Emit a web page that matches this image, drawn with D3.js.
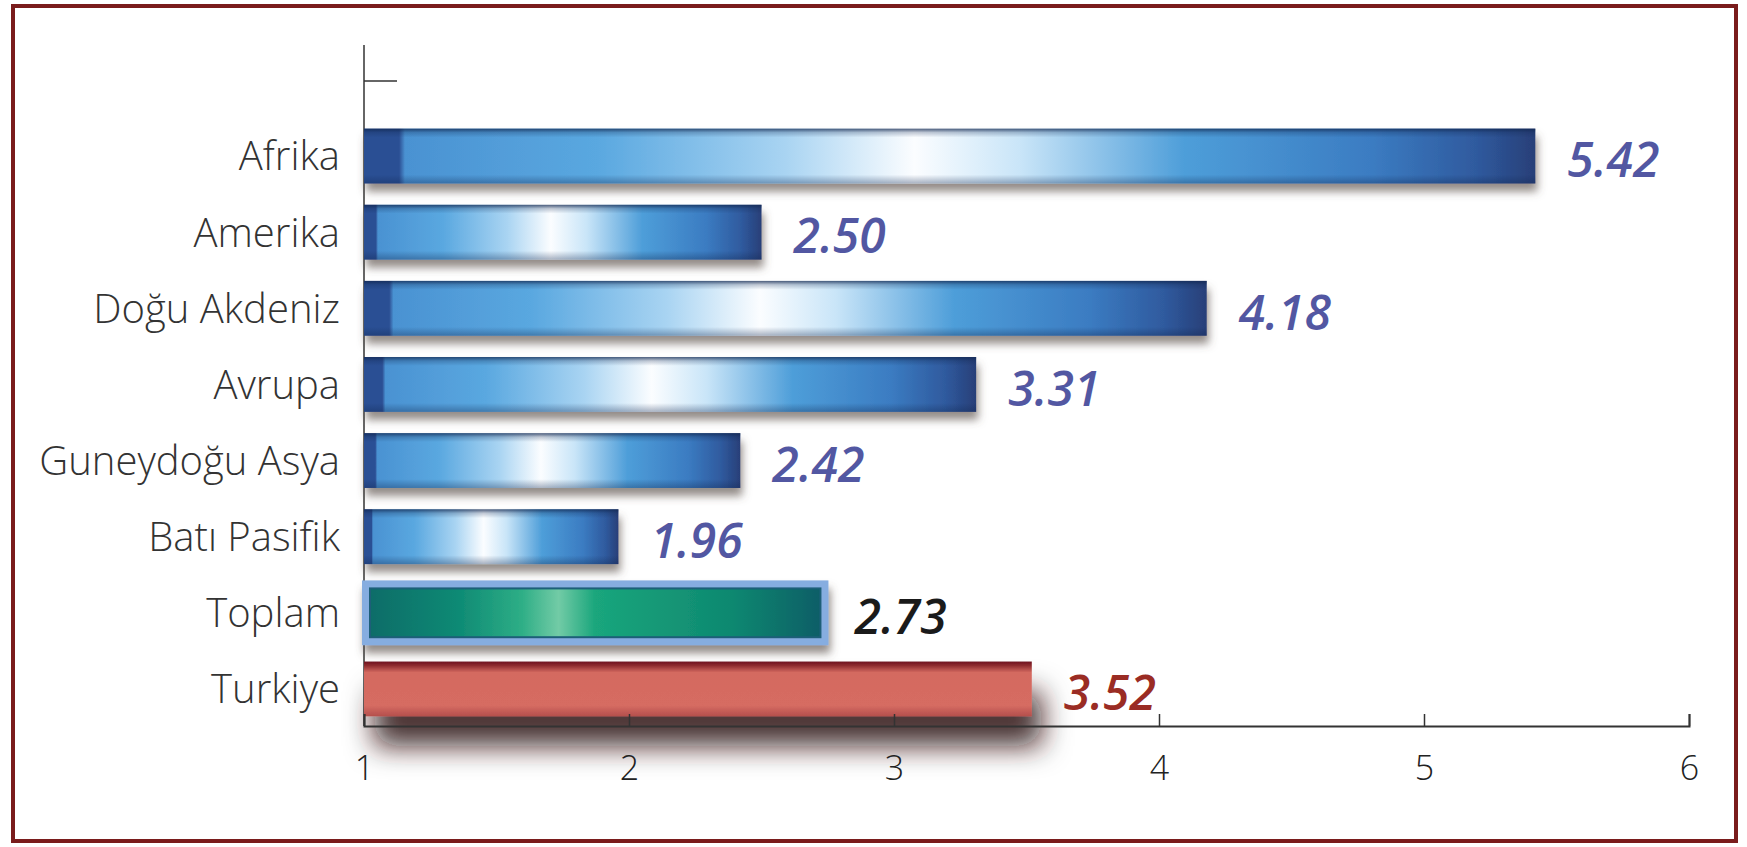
<!DOCTYPE html>
<html>
<head>
<meta charset="utf-8">
<script src="https://cdn.jsdelivr.net/npm/d3@7"></script>
<style>
  body { margin: 0; background: #fff; }
  svg { display: block; }
</style>
</head>
<body>
<div id="chart"></div>
<script>
var categories = ["Afrika", "Amerika", "Doğu Akdeniz", "Avrupa", "Guneydoğu Asya", "Batı Pasifik", "Toplam", "Turkiye"];
var values = [5.42, 2.50, 4.18, 3.31, 2.42, 1.96, 2.73, 3.52];
var kinds = ["region", "region", "region", "region", "region", "region", "total", "country"];
var tickValues = [1, 2, 3, 4, 5, 6];

var W = 1747, H = 847;
var margin = {top: 45, left: 364, right: 58, bottom: 120};

var x = d3.scaleLinear()
    .domain([1, 6])
    .range([margin.left, W - margin.right]);

var y = d3.scaleBand()
    .domain(categories)
    .range([118, 727])
    .paddingInner(0.28)
    .paddingOuter(0.14);

var axisY = 726;

var svg = d3.select("#chart").append("svg")
    .attr("width", W)
    .attr("height", H);

var defs = svg.append("defs");

function grad(id, stops, vertical) {
  var g = defs.append("linearGradient")
      .attr("id", id)
      .attr("x1", 0).attr("y1", 0)
      .attr("x2", vertical ? 0 : 1).attr("y2", vertical ? 1 : 0);
  stops.forEach(function(s) {
    g.append("stop").attr("offset", s[0]).attr("stop-color", s[1]).attr("stop-opacity", s[2] == null ? 1 : s[2]);
  });
}

grad("blueH", [
  [0, "#2c4f94"], [0.03, "#2c4f94"], [0.035, "#4a92d2"], [0.2, "#5aa8e0"],
  [0.36, "#a9d4f2"], [0.47, "#fbfdff"], [0.56, "#c9e5f8"], [0.7, "#4e9ed9"],
  [0.86, "#3b7cc2"], [0.95, "#2f5a9e"], [1, "#283f78"]
]);
grad("shadeV", [
  [0, "#10264f", 0.75], [0.07, "#10264f", 0.25], [0.16, "#10264f", 0],
  [0.84, "#10264f", 0], [1, "#10264f", 0.35]
], true);
grad("tealH", [
  [0, "#0b6b68"], [0.2, "#0e8a74"], [0.34, "#2eae86"], [0.42, "#72cba6"],
  [0.5, "#1aa67c"], [0.8, "#0e8870"], [1, "#0a5c66"]
]);
grad("redV", [
  [0, "#6e1420"], [0.07, "#8c2a2e"], [0.2, "#d46a60"], [0.8, "#d66c62"], [1, "#b44f4c"]
], true);

var f1 = defs.append("filter").attr("id", "shadow")
    .attr("x", "-5%").attr("y", "-30%").attr("width", "115%").attr("height", "180%");
f1.append("feDropShadow").attr("dx", 2).attr("dy", 8).attr("stdDeviation", 4)
    .attr("flood-color", "#5a5048").attr("flood-opacity", 0.65);

var f2 = defs.append("filter").attr("id", "bigShadow")
    .attr("x", "-10%").attr("y", "-30%").attr("width", "125%").attr("height", "300%");
f2.append("feDropShadow").attr("dx", 10).attr("dy", 30).attr("stdDeviation", 14)
    .attr("flood-color", "#2a1010").attr("flood-opacity", 0.85);

// frame
svg.append("rect")
    .attr("x", 13).attr("y", 6)
    .attr("width", 1723).attr("height", 835)
    .attr("fill", "#fff")
    .attr("stroke", "#7a1c1c")
    .attr("stroke-width", 4);

// y axis line + top tick
svg.append("line")
    .attr("x1", x(1)).attr("x2", x(1))
    .attr("y1", margin.top).attr("y2", axisY)
    .attr("stroke", "#333").attr("stroke-width", 1.5);
svg.append("line")
    .attr("x1", x(1)).attr("x2", x(1) + 33)
    .attr("y1", 81).attr("y2", 81)
    .attr("stroke", "#333").attr("stroke-width", 1.5);

var rows = categories.map(function(c, i) { return {name: c, value: values[i], kind: kinds[i]}; });

var bar = svg.selectAll("g.bar")
    .data(rows)
    .enter().append("g")
    .attr("class", "bar");

// regions
var reg = bar.filter(function(d) { return d.kind === "region"; });
reg.append("rect")
    .attr("x", x(1))
    .attr("y", function(d) { return y(d.name); })
    .attr("width", function(d) { return x(d.value) - x(1); })
    .attr("height", y.bandwidth())
    .attr("fill", "url(#blueH)")
    .attr("filter", "url(#shadow)");
reg.append("rect")
    .attr("x", x(1))
    .attr("y", function(d) { return y(d.name); })
    .attr("width", function(d) { return x(d.value) - x(1); })
    .attr("height", y.bandwidth())
    .attr("fill", "url(#shadeV)");

// total
var tot = bar.filter(function(d) { return d.kind === "total"; });
tot.append("rect")
    .attr("x", x(1) + 2)
    .attr("y", function(d) { return y(d.name) - 1; })
    .attr("width", function(d) { return x(d.value) - x(1); })
    .attr("height", y.bandwidth() + 2)
    .attr("fill", "url(#tealH)")
    .attr("stroke", "#86ade0")
    .attr("stroke-width", 8)
    .attr("filter", "url(#shadow)");
tot.append("rect")
    .attr("x", x(1) + 6)
    .attr("y", function(d) { return y(d.name) + 3; })
    .attr("width", function(d) { return x(d.value) - x(1) - 8; })
    .attr("height", y.bandwidth() - 6)
    .attr("fill", "none")
    .attr("stroke", "#1d5f78")
    .attr("stroke-width", 2);

// country
var cty = bar.filter(function(d) { return d.kind === "country"; });
cty.append("rect")
    .attr("x", x(1))
    .attr("y", function(d) { return y(d.name); })
    .attr("width", function(d) { return x(d.value) - x(1); })
    .attr("height", y.bandwidth())
    .attr("fill", "url(#redV)")
    .attr("filter", "url(#bigShadow)");

// x axis
var xAxis = d3.axisBottom(x)
    .tickValues(tickValues)
    .tickFormat(d3.format("d"))
    .tickSize(-12)
    .tickPadding(30);

var gx = svg.append("g")
    .attr("transform", "translate(0," + axisY + ")")
    .call(xAxis);
gx.select(".domain").attr("stroke", "#333").attr("stroke-width", 2);
gx.selectAll(".tick line").attr("stroke", "#333").attr("stroke-width", 1.5);
gx.selectAll(".tick text")
    .attr("fill", "#222")
    .style("font-family", "'Open Sans', sans-serif")
    .style("font-weight", 300)
    .style("font-size", "34px");

// category labels
svg.selectAll("text.cat")
    .data(rows)
    .enter().append("text")
    .attr("class", "cat")
    .attr("x", 340)
    .attr("y", function(d) { return y(d.name) + y.bandwidth() / 2; })
    .attr("dy", "0.36em")
    .attr("text-anchor", "end")
    .attr("fill", "#333")
    .style("font-family", "'Open Sans', sans-serif")
    .style("font-weight", 300)
    .style("font-size", "40px")
    .text(function(d) { return d.name; });

// value labels
var valColor = {region: "#5257a2", total: "#1a1a1a", country: "#9a2c24"};
svg.selectAll("text.val")
    .data(rows)
    .enter().append("text")
    .attr("class", "val")
    .attr("x", function(d) { return x(d.value) + 32; })
    .attr("y", function(d) { return y(d.name) + y.bandwidth() / 2 + 4; })
    .attr("dy", "0.36em")
    .attr("fill", function(d) { return valColor[d.kind]; })
    .style("font-family", "'Open Sans', sans-serif")
    .style("font-weight", 600)
    .style("font-style", "italic")
    .style("font-size", "48px")
    .text(function(d) { return d3.format(".2f")(d.value); });
</script>
</body>
</html>
